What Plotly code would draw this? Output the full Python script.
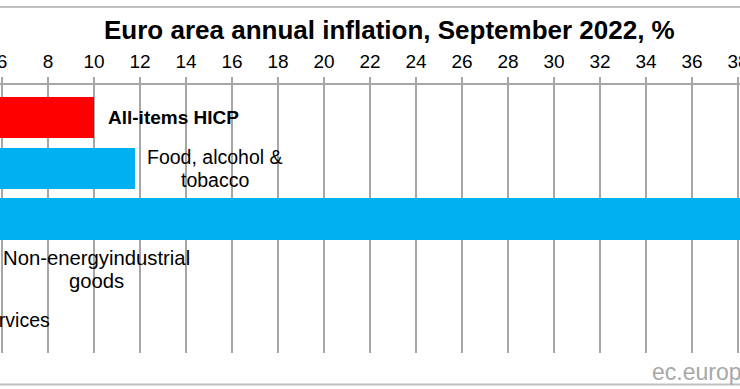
import plotly.graph_objects as go

# ---- data ----
categories = ["All-items HICP", "Food, alcohol &<br>tobacco", "Energy",
              "Non-energyindustrial<br>goods", "Services"]
values = [10.0, 11.8, 40.8, 5.6, 4.3]
bar_colors = ["#FF0000", "#00B0F0", "#00B0F0", "#00B0F0", "#00B0F0"]
label_bold = [True, False, False, False, False]
tick_values = list(range(0, 42, 2))
title_text = "Euro area annual inflation, September 2022, %"
source_text = "ec.europa.eu/eurostat"

# ---- layout constants (pixels) ----
W, H = 740, 389
PLOT_TOP, PLOT_BOTTOM = 85, 353
PH = PLOT_BOTTOM - PLOT_TOP
X0 = 6 - 2 / 23
X1 = 38 + 2 / 23

def py(pix):
    return (PLOT_BOTTOM - pix) / PH

def px_from_value(v):
    return (v - X0) / (X1 - X0)

ypos = list(range(len(categories)))

fig = go.Figure()
fig.add_trace(go.Bar(
    x=values, y=ypos, orientation="h",
    marker=dict(color=bar_colors, line=dict(width=0)),
    width=0.818, hoverinfo="skip", showlegend=False,
))

Y0, Y1 = 4.645, -0.645
def py_from_cat(i):
    return (i - Y0) / (Y1 - Y0)

# label placement tweaks (pixel shifts from the bar end)
label_shift = {0: 12, 1: 80, 2: 12, 3: 104, 4: 10}
label_size = {0: 19, 1: 19.5, 2: 19.5, 3: 20.3, 4: 19.5}
line_gap = 22.5
annotations = []
for i, (cat, v, b) in enumerate(zip(categories, values, label_bold)):
    lines = cat.split("<br>")
    n = len(lines)
    for k, ln in enumerate(lines):
        txt = f"<b>{ln}</b>" if b else ln
        annotations.append(dict(
            x=px_from_value(v), y=py_from_cat(i), xref="paper", yref="paper",
            text=txt, showarrow=False,
            xanchor="left" if n == 1 else "center", yanchor="middle",
            xshift=label_shift[i],
            yshift=-(k - (n - 1) / 2) * line_gap,
            font=dict(family="Liberation Sans, Arial", size=label_size[i],
                      color="#000000"),
        ))

annotations.append(dict(
    x=389.5 / W, y=py(30), xref="paper", yref="paper", text=f"<b>{title_text}</b>",
    showarrow=False, xanchor="center", yanchor="middle",
    font=dict(family="Liberation Sans, Arial", size=26, color="#000000"),
))
annotations.append(dict(
    x=650 / W, y=py(372), xref="paper", yref="paper", text=source_text,
    showarrow=False, xanchor="left", yanchor="middle",
    font=dict(family="Liberation Sans, Arial", size=23, color="#a8a8a8"),
))

shapes = [
    dict(type="line", xref="paper", yref="paper", x0=0, x1=1, y0=py(7), y1=py(7),
         line=dict(color="#c0c0c0", width=2)),
    dict(type="line", xref="paper", yref="paper", x0=0, x1=1, y0=py(384.5), y1=py(384.5),
         line=dict(color="#c0c0c0", width=2)),
]

fig.update_layout(
    width=W, height=H,
    margin=dict(l=0, r=0, t=PLOT_TOP, b=H - PLOT_BOTTOM, pad=0, autoexpand=False),
    paper_bgcolor="white", plot_bgcolor="white",
    bargap=0,
    xaxis=dict(
        range=[X0, X1], side="top", tickvals=tick_values,
        ticktext=[str(t) for t in tick_values],
        showgrid=True, gridcolor="#a6a6a6", gridwidth=1.5,
        showline=True, linecolor="#a6a6a6", linewidth=1.5,
        ticks="outside", ticklen=6, tickcolor="#a6a6a6", tickwidth=1.5,
        ticklabelstandoff=2, ticklabeloverflow="allow",
        tickfont=dict(family="Liberation Sans, Arial", size=19, color="#000000"),
        zeroline=False, fixedrange=True, automargin=False,
    ),
    yaxis=dict(
        range=[Y0, Y1], showticklabels=False, showgrid=False,
        zeroline=False, showline=False, ticks="", fixedrange=True, automargin=False,
    ),
    annotations=annotations,
    shapes=shapes,
)

fig.write_html(
    "out.html",
    config={"displayModeBar": False},
    post_script="document.body.style.margin='0px';document.body.style.overflow='hidden';",
)
